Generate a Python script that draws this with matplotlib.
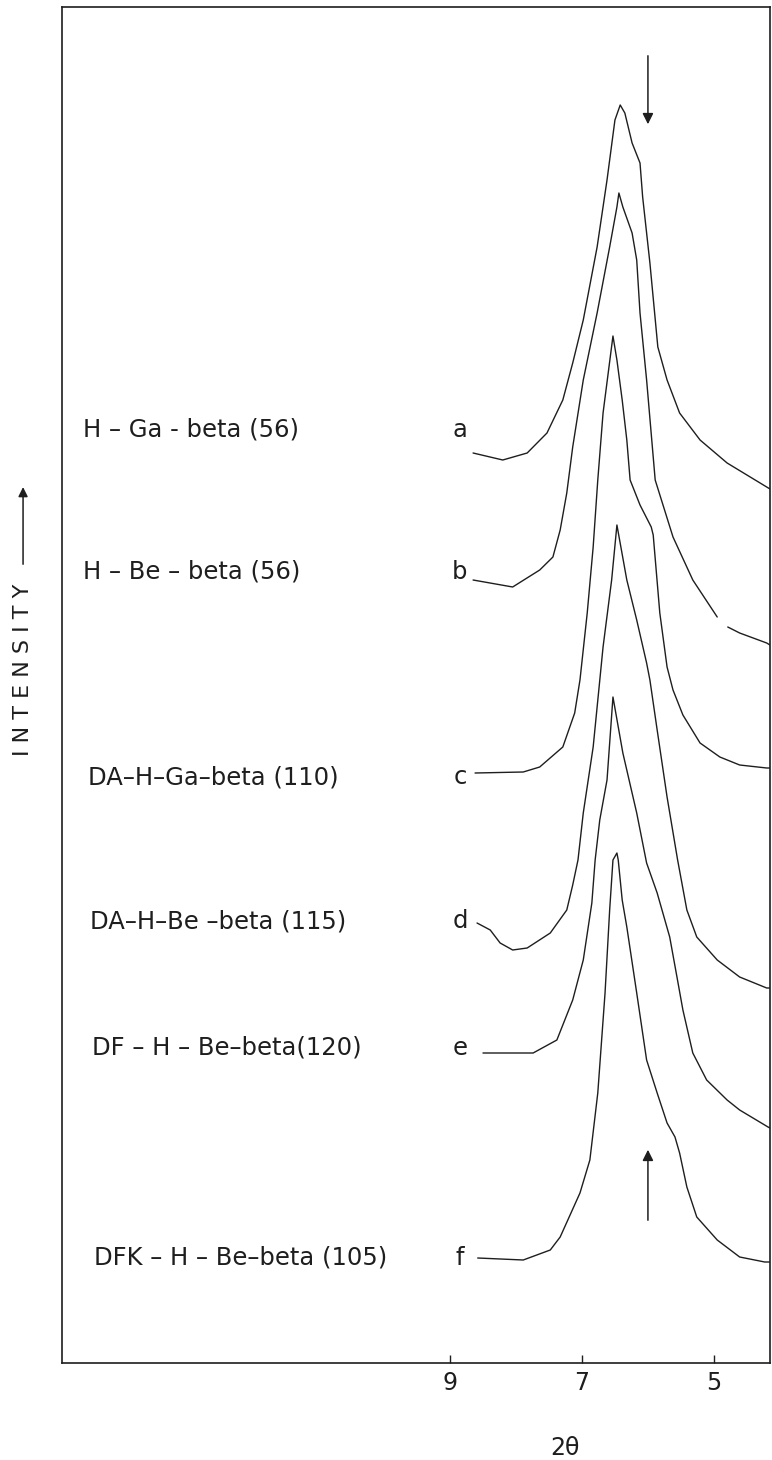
import numpy as np
import matplotlib
matplotlib.use("Agg")
import matplotlib.pyplot as plt

# ---- data (2theta in degrees, intensity in arb. units, offset) ----
a_tt = [8.65, 8.20, 7.83, 7.53, 7.29, 7.14, 6.98, 6.77, 6.62, 6.50, 6.42, 6.35, 6.24,
        6.12, 6.08, 5.97, 5.85, 5.71, 5.52, 5.21, 4.80, 4.20, 4.15]
a_int = [910, 903, 910, 930, 963, 1000, 1043, 1116, 1183, 1243, 1258, 1250, 1220,
         1200, 1166, 1100, 1016, 983, 950, 923, 900, 876, 874]

b_tt = [8.65, 8.05, 7.64, 7.44, 7.33, 7.23, 7.14, 6.98, 6.77, 6.58, 6.47, 6.44, 6.38,
        6.24, 6.17, 6.12, 6.02, 5.89, 5.62, 5.32, 4.95, np.nan, 4.79, 4.61, 4.20, 4.15]
b_int = [783, 776, 793, 806, 833, 870, 916, 983, 1050, 1116, 1156, 1170, 1156,
         1130, 1103, 1050, 983, 883, 826, 783, 746, np.nan, 736, 730, 720, 718]

c_tt = [8.62, 7.89, 7.64, 7.29, 7.11, 7.03, 6.92, 6.83, 6.76, 6.68, 6.53, 6.47, 6.39,
        6.32, 6.27, 6.12, 5.95, 5.92, 5.82, 5.71, 5.62, 5.47, 5.21, 4.91, 4.61, 4.20, 4.15]
c_int = [590, 591, 596, 616, 650, 683, 750, 816, 883, 950, 1027, 1003, 963,
         923, 883, 858, 836, 828, 750, 696, 673, 648, 620, 606, 598, 595, 595]

d_tt = [8.59, 8.39, 8.24, 8.05, 7.83, 7.48, 7.23, 7.14, 7.06, 6.98, 6.83, 6.68, 6.55,
        6.47, 6.32, 6.17, 6.02, 5.97, 5.86, 5.71, 5.55, 5.41, 5.26, 4.95, 4.61, 4.20, 4.15]
d_int = [440, 433, 420, 413, 415, 430, 453, 478, 503, 550, 616, 716, 783,
         838, 783, 743, 700, 683, 633, 566, 503, 453, 426, 403, 386, 375, 375]

e_tt = [8.50, 7.74, 7.38, 7.14, 6.98, 6.85, 6.80, 6.73, 6.62, 6.53, 6.38, 6.17, 6.02,
        5.86, 5.67, 5.56, 5.47, 5.32, 5.11, 4.80, 4.61, 4.18, 4.15]
e_int = [310, 310, 323, 363, 403, 460, 503, 543, 583, 666, 610, 550, 500,
         470, 426, 386, 353, 310, 283, 263, 253, 236, 235]

f_tt = [8.58, 7.89, 7.48, 7.33, 7.03, 6.88, 6.76, 6.65, 6.58, 6.53, 6.47, 6.45, 6.39,
        6.32, 6.17, 6.02, 5.86, 5.71, 5.59, 5.52, 5.41, 5.26, 4.95, 4.61, 4.23, 4.15]
f_int = [105, 103, 113, 126, 170, 203, 270, 370, 453, 503, 510, 503, 463,
         436, 370, 303, 270, 240, 226, 210, 176, 146, 123, 106, 101, 101]

letters = ["a", "b", "c", "d", "e", "f"]
samples = ["H – Ga - beta (56)", "H – Be – beta (56)", "DA–H–Ga–beta (110)",
           "DA–H–Be –beta (115)", "DF – H – Be–beta(120)", "DFK – H – Be–beta (105)"]
label_int = [933, 791, 586, 442, 315, 105]
arrow_tt = 6.0
xticks = [9, 7, 5]

ink = "#1e1e1e"
plt.rcParams["font.family"] = ["DejaVu Sans"]

fig = plt.figure(figsize=(7.72, 14.60), dpi=100)
ax = fig.add_axes([62 / 772, 97 / 1460, 708 / 772, 1356 / 1460])

curves = [(a_tt, a_int), (b_tt, b_int), (c_tt, c_int),
          (d_tt, d_int), (e_tt, e_int), (f_tt, f_int)]
for tt, inten in curves:
    ax.plot(tt, inten, color=ink, linewidth=1.0, solid_capstyle="round")

# sample names and letters
name_x = [14.56, 14.56, 14.48, 14.45, 14.42, 14.40]
for name, nx, let, yl in zip(samples, name_x, letters, label_int):
    ax.text(nx, yl, name, fontsize=17.5, color=ink, ha="left", va="center")
    ax.text(8.85, yl, let, fontsize=17.5, color=ink, ha="center", va="center")

# arrows marking 2theta = 6.0
ax.annotate("", xy=(arrow_tt, 1236), xytext=(arrow_tt, 1310),
            arrowprops=dict(arrowstyle="-|>", color=ink, lw=1.1, mutation_scale=16))
ax.annotate("", xy=(arrow_tt, 216), xytext=(arrow_tt, 140),
            arrowprops=dict(arrowstyle="-|>", color=ink, lw=1.1, mutation_scale=16))

ax.set_xlim(14.88, 4.15)
ax.set_ylim(0, 1356)
ax.set_xticks(xticks)
ax.set_xticklabels([str(t) for t in xticks], fontsize=17, color=ink)
ax.tick_params(axis="x", direction="in", length=6, width=1.0, pad=6, colors=ink)
ax.set_yticks([])
for s in ax.spines.values():
    s.set_color(ink)
    s.set_linewidth(1.2)

ax.set_xlabel("2θ", fontsize=17, color=ink)
ax.xaxis.set_label_coords(0.71, -0.054)

# intensity label with arrow
ax.text(-0.055, 0.511, "I N T E N S I T Y", rotation=90, fontsize=16, color=ink,
        ha="center", va="center", transform=ax.transAxes)
ax.annotate("", xy=(-0.055, 0.648), xytext=(-0.055, 0.587),
            xycoords="axes fraction", textcoords="axes fraction",
            arrowprops=dict(arrowstyle="-|>", color=ink, lw=1.1, mutation_scale=14),
            annotation_clip=False)

fig.savefig("out.png", dpi=100, facecolor="white")
